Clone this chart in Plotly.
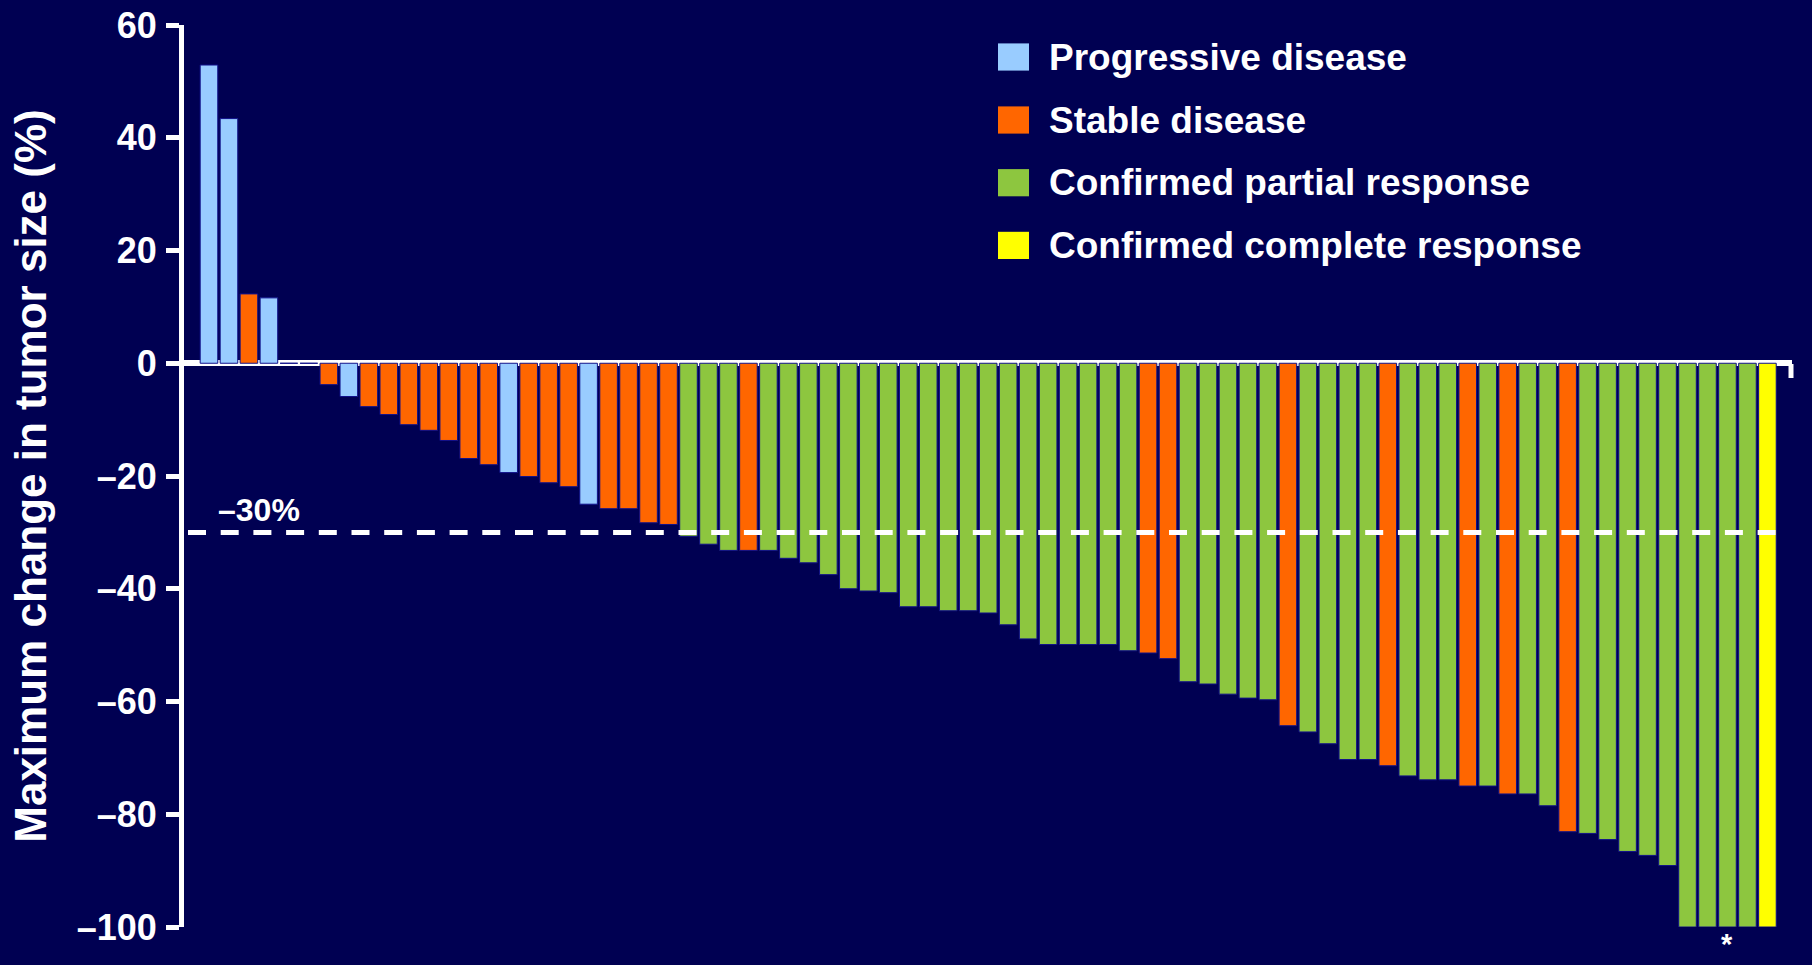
import plotly.graph_objects as go

# Best overall response per patient, ordered by maximum change in tumor size
patient = list(range(1, 80))
change = [
    52.9, 43.4, 12.3, 11.6, 0.0, 0.0, -3.8, -5.9, -7.7, -9.1,
    -10.9, -11.9, -13.7, -16.9, -18.0, -19.4, -20.1, -21.2, -21.9, -25.0,
    -25.8, -25.8, -28.3, -28.6, -30.7, -32.1, -33.2, -33.2, -33.2, -34.6,
    -35.4, -37.5, -40.0, -40.4, -40.7, -43.2, -43.2, -43.9, -43.9, -44.3,
    -46.4, -48.9, -49.9, -49.9, -49.9, -49.9, -51.0, -51.4, -52.4, -56.5,
    -56.9, -58.7, -59.4, -59.7, -64.3, -65.4, -67.5, -70.3, -70.3, -71.4,
    -73.2, -73.9, -73.9, -75.0, -75.0, -76.4, -76.4, -78.5, -83.1, -83.4,
    -84.5, -86.6, -87.3, -89.1, -100.0, -100.0, -100.0, -100.0, -100.0,
]
PD, SD, PR, CR = "PD", "SD", "PR", "CR"
response = [
    PD, PD, SD, PD, SD, SD, SD, PD, SD, SD,
    SD, SD, SD, SD, SD, PD, SD, SD, SD, PD,
    SD, SD, SD, SD, PR, PR, PR, SD, PR, PR,
    PR, PR, PR, PR, PR, PR, PR, PR, PR, PR,
    PR, PR, PR, PR, PR, PR, PR, SD, SD, PR,
    PR, PR, PR, PR, SD, PR, PR, PR, PR, SD,
    PR, PR, PR, SD, PR, SD, PR, PR, SD, PR,
    PR, PR, PR, PR, PR, PR, PR, PR, CR,
]
categories = [PD, SD, PR, CR]
category_labels = [
    "Progressive disease",
    "Stable disease",
    "Confirmed partial response",
    "Confirmed complete response",
]
category_colors = ["#99CCFF", "#FF6600", "#8DC63F", "#FFFF00"]
marked_patient = 77          # flagged with an asterisk under its bar
threshold = -30              # partial-response threshold
y_ticks = [60, 40, 20, 0, -20, -40, -60, -80, -100]
y_ticktext = [str(t).replace("-", "\u2013") for t in y_ticks]

# Page geometry
W, H = 1812, 965
ML, MR, MT, MB = 184, 20, 25, 38
PW, PH = W - ML - MR, H - MT - MB

def px_x(px):
    return (px - ML) / PW

def px_y(py):
    return (H - MB - py) / PH

BG = "#000052"
FONT = "Arial, 'Liberation Sans', sans-serif"

fig = go.Figure()
for cat, color in zip(categories, category_colors):
    xs = [p for p, r in zip(patient, response) if r == cat]
    ys = [v for v, r in zip(change, response) if r == cat]
    fig.add_trace(go.Bar(
        x=xs, y=ys, width=0.88,
        marker=dict(color=color, line=dict(color="#10108A", width=1)),
        showlegend=False, hoverinfo="x+y",
    ))

# -30% threshold line and its label
fig.add_shape(type="line", xref="paper", yref="y", x0=px_x(188), x1=px_x(1790),
              y0=threshold, y1=threshold,
              line=dict(color="white", width=5, dash="18px,14.7px"))
fig.add_annotation(xref="paper", yref="y", x=px_x(216), y=threshold,
                   xanchor="left", yanchor="bottom", yshift=2, showarrow=False,
                   text="\u201330%", font=dict(family=FONT, size=32, color="white", weight="bold"))

# small end tick on the zero axis
fig.add_shape(type="line", xref="paper", yref="paper", x0=px_x(1791), x1=px_x(1791),
              y0=px_y(364), y1=px_y(378), line=dict(color="white", width=5))

# asterisk under the flagged patient
fig.add_annotation(x=marked_patient, y=-100, yref="y", yanchor="top", yshift=0,
                   showarrow=False, text="*", borderpad=0,
                   font=dict(family=FONT, size=29, color="white", weight="bold"))

# legend: coloured squares with labels
row_centers = [57, 120, 182.7, 245.4]
for label, color, cy in zip(category_labels, category_colors, row_centers):
    fig.add_shape(type="rect", xref="paper", yref="paper",
                  x0=px_x(998), x1=px_x(1029), y0=px_y(cy + 13.6), y1=px_y(cy - 13.6),
                  fillcolor=color, line=dict(width=0))
    fig.add_annotation(xref="paper", yref="paper", x=px_x(1047), y=px_y(cy),
                       xanchor="left", yanchor="middle", showarrow=False, text=label,
                       font=dict(family=FONT, size=37, color="white", weight="bold"))

fig.update_layout(
    width=W, height=H,
    margin=dict(l=ML, r=MR, t=MT, b=MB, pad=0),
    paper_bgcolor=BG, plot_bgcolor=BG,
    barmode="overlay",
    font=dict(family=FONT, color="white"),
    xaxis=dict(range=[-0.25, 80.23], showgrid=False, zeroline=False, showline=False,
               showticklabels=False, ticks="", automargin=False),
    yaxis=dict(range=[-100, 60], tickvals=y_ticks, ticktext=y_ticktext,
               automargin=False, layer="above traces",
               showgrid=False, showline=True, linecolor="white", linewidth=5,
               ticks="outside", ticklen=13, tickwidth=5, tickcolor="white",
               ticklabelstandoff=2,
               tickfont=dict(family=FONT, size=36, color="white", weight="bold"),
               zeroline=True, zerolinecolor="white", zerolinewidth=6,
               title=dict(text="Maximum change in tumor size (%)", standoff=18,
                          font=dict(family=FONT, size=44, color="white", weight="bold"))),
)

fig.write_html("out.html")
